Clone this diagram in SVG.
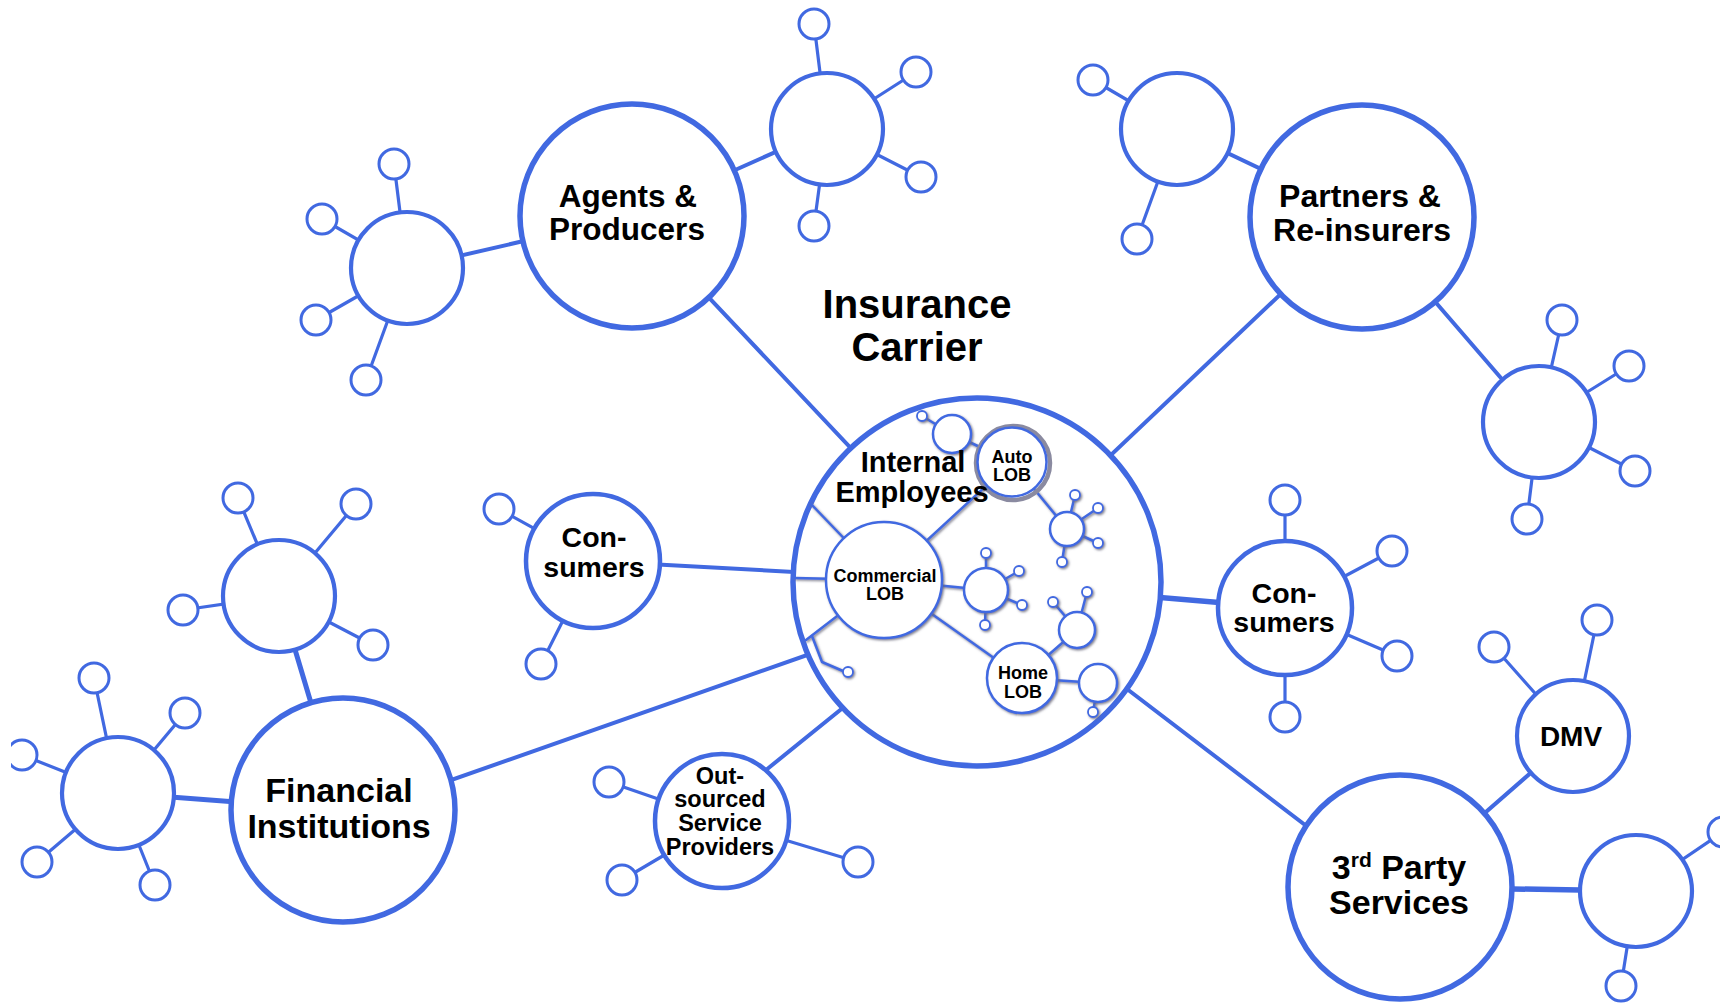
<svg xmlns="http://www.w3.org/2000/svg" width="1720" height="1004" viewBox="0 0 1720 1004">
<defs>
<style>
.n{fill:#fff;stroke:#4169e1}
.big{stroke-width:5.5}
.mid{stroke-width:4.5}
.sat{stroke-width:4.2}
.sm{fill:#fff;stroke:#4169e1;stroke-width:3}
.ln{stroke:#4169e1;stroke-linecap:round;fill:none}
.main{stroke-width:4}
.sp{stroke-width:3.2}
.t{font-family:"Liberation Sans",Arial,Helvetica,sans-serif;font-weight:bold;fill:#000;text-anchor:middle}
.il{stroke:#4169e1;stroke-width:2.5;fill:none;stroke-linecap:round}
.ic{fill:#fff;stroke:#4169e1;stroke-width:2.5}
.tc{fill:#fff;stroke:#4169e1;stroke-width:1.8}
</style>
<filter id="sh" x="-20%" y="-20%" width="140%" height="140%">
<feDropShadow dx="1.3" dy="1.3" stdDeviation="0.8" flood-color="#6a6a7a" flood-opacity="0.85"/>
</filter>
<clipPath id="clip"><rect x="11" y="0" width="1709" height="1004"/></clipPath>
</defs>
<rect width="1720" height="1004" fill="#fff"/>
<g clip-path="url(#clip)">
<g id="connectors" class="ln">
<line class="main" x1="632" y1="216" x2="977" y2="582"/>
<line class="main" x1="1362" y1="217" x2="977" y2="582"/>
<line class="main" x1="593" y1="561" x2="977" y2="582"/>
<line class="main" x1="400" y1="798" x2="830" y2="647"/>
<line class="main" x1="745" y1="787" x2="860" y2="694"/>
<line stroke-width="5.5" x1="1285" y1="608" x2="977" y2="582"/>
<line class="main" x1="1330" y1="844" x2="1110" y2="676"/>
<line class="main" x1="632" y1="216" x2="407" y2="268"/>
<line class="main" x1="632" y1="216" x2="827" y2="129"/>
<line class="main" x1="1362" y1="217" x2="1177" y2="129"/>
<line class="main" x1="1362" y1="217" x2="1539" y2="422"/>
<line stroke-width="5" x1="343" y1="810" x2="279" y2="596"/>
<line stroke-width="5" x1="343" y1="810" x2="118" y2="793"/>
<line class="main" x1="1400" y1="887" x2="1573" y2="736"/>
<line stroke-width="5.5" x1="1400" y1="887" x2="1636" y2="891"/>
<g class="sp">
<line x1="407" y1="268" x2="394" y2="164"/><line x1="407" y1="268" x2="322" y2="219"/><line x1="407" y1="268" x2="316" y2="320"/><line x1="407" y1="268" x2="366" y2="380"/>
<line x1="827" y1="129" x2="814" y2="24"/><line x1="827" y1="129" x2="916" y2="72"/><line x1="827" y1="129" x2="921" y2="177"/><line x1="827" y1="129" x2="814" y2="226"/>
<line x1="1177" y1="129" x2="1093" y2="80"/><line x1="1177" y1="129" x2="1137" y2="239"/>
<line x1="1539" y1="422" x2="1562" y2="320"/><line x1="1539" y1="422" x2="1629" y2="366"/><line x1="1539" y1="422" x2="1635" y2="471"/><line x1="1539" y1="422" x2="1527" y2="519"/>
<line x1="593" y1="561" x2="499" y2="509"/><line x1="593" y1="561" x2="541" y2="664"/>
<line x1="279" y1="596" x2="238" y2="498"/><line x1="279" y1="596" x2="356" y2="504"/><line x1="279" y1="596" x2="183" y2="610"/><line x1="279" y1="596" x2="373" y2="645"/>
<line x1="118" y1="793" x2="94" y2="678"/><line x1="118" y1="793" x2="185" y2="713"/><line x1="118" y1="793" x2="22" y2="755"/><line x1="118" y1="793" x2="37" y2="862"/><line x1="118" y1="793" x2="155" y2="885"/>
<line x1="722" y1="821" x2="609" y2="782"/><line x1="722" y1="821" x2="622" y2="880"/><line x1="722" y1="821" x2="858" y2="862"/>
<line x1="1285" y1="608" x2="1285" y2="500"/><line x1="1285" y1="608" x2="1392" y2="551"/><line x1="1285" y1="608" x2="1397" y2="656"/><line x1="1285" y1="608" x2="1285" y2="717"/>
<line x1="1573" y1="736" x2="1494" y2="647"/><line x1="1573" y1="736" x2="1597" y2="620"/>
<line x1="1636" y1="891" x2="1723" y2="832"/><line x1="1636" y1="891" x2="1621" y2="986"/>
</g>
</g>

<g id="agents-sat-left">
<circle class="n sat" cx="407" cy="268" r="56"/>
<circle class="sm" cx="394" cy="164" r="15"/><circle class="sm" cx="322" cy="219" r="15"/><circle class="sm" cx="316" cy="320" r="15"/><circle class="sm" cx="366" cy="380" r="15"/>
</g>
<g id="agents-sat-top">
<circle class="n sat" cx="827" cy="129" r="56"/>
<circle class="sm" cx="814" cy="24" r="15"/><circle class="sm" cx="916" cy="72" r="15"/><circle class="sm" cx="921" cy="177" r="15"/><circle class="sm" cx="814" cy="226" r="15"/>
</g>
<g id="agents">
<circle class="n big" cx="632" cy="216" r="112"/>
<text class="t" font-size="31.5" x="628" y="207">Agents &amp;</text>
<text class="t" font-size="31.5" x="627" y="240">Producers</text>
</g>

<g id="partners-sat-top">
<circle class="n sat" cx="1177" cy="129" r="56"/>
<circle class="sm" cx="1093" cy="80" r="15"/><circle class="sm" cx="1137" cy="239" r="15"/>
</g>
<g id="partners-sat-right">
<circle class="n sat" cx="1539" cy="422" r="56"/>
<circle class="sm" cx="1562" cy="320" r="15"/><circle class="sm" cx="1629" cy="366" r="15"/><circle class="sm" cx="1635" cy="471" r="15"/><circle class="sm" cx="1527" cy="519" r="15"/>
</g>
<g id="partners">
<circle class="n big" cx="1362" cy="217" r="112"/>
<text class="t" font-size="32" x="1360" y="207">Partners &amp;</text>
<text class="t" font-size="32" x="1362" y="241">Re-insurers</text>
</g>

<g id="consumers-left">
<circle class="n mid" cx="593" cy="561" r="67"/>
<circle class="sm" cx="499" cy="509" r="15"/><circle class="sm" cx="541" cy="664" r="15"/>
<text class="t" font-size="28.5" x="594" y="547">Con-</text>
<text class="t" font-size="28.5" x="594" y="577">sumers</text>
</g>

<g id="financial-sat-top">
<circle class="n sat" cx="279" cy="596" r="56"/>
<circle class="sm" cx="238" cy="498" r="15"/><circle class="sm" cx="356" cy="504" r="15"/><circle class="sm" cx="183" cy="610" r="15"/><circle class="sm" cx="373" cy="645" r="15"/>
</g>
<g id="financial-sat-left">
<circle class="n sat" cx="118" cy="793" r="56"/>
<circle class="sm" cx="94" cy="678" r="15"/><circle class="sm" cx="185" cy="713" r="15"/><circle class="sm" cx="22" cy="755" r="15"/><circle class="sm" cx="37" cy="862" r="15"/><circle class="sm" cx="155" cy="885" r="15"/>
</g>
<g id="financial">
<circle class="n big" cx="343" cy="810" r="112"/>
<text class="t" font-size="34" x="339" y="802">Financial</text>
<text class="t" font-size="34" x="339" y="838">Institutions</text>
</g>

<g id="outsourced">
<circle class="n mid" cx="722" cy="821" r="67"/>
<circle class="sm" cx="609" cy="782" r="15"/><circle class="sm" cx="622" cy="880" r="15"/><circle class="sm" cx="858" cy="862" r="15"/>
<text class="t" font-size="23.5" x="720" y="784">Out-</text>
<text class="t" font-size="23.5" x="720" y="807">sourced</text>
<text class="t" font-size="23.5" x="720" y="831">Service</text>
<text class="t" font-size="23.5" x="720" y="855">Providers</text>
</g>

<g id="consumers-right">
<circle class="n mid" cx="1285" cy="608" r="67"/>
<circle class="sm" cx="1285" cy="500" r="15"/><circle class="sm" cx="1392" cy="551" r="15"/><circle class="sm" cx="1397" cy="656" r="15"/><circle class="sm" cx="1285" cy="717" r="15"/>
<text class="t" font-size="28.5" x="1284" y="603">Con-</text>
<text class="t" font-size="28.5" x="1284" y="632">sumers</text>
</g>

<g id="dmv">
<circle class="n sat" cx="1573" cy="736" r="56"/>
<circle class="sm" cx="1494" cy="647" r="15"/><circle class="sm" cx="1597" cy="620" r="15"/>
<text class="t" font-size="28" x="1571" y="746">DMV</text>
</g>
<g id="third-party-sat">
<circle class="n sat" cx="1636" cy="891" r="56"/>
<circle class="sm" cx="1723" cy="832" r="15"/><circle class="sm" cx="1621" cy="986" r="15"/>
</g>
<g id="third-party">
<circle class="n big" cx="1400" cy="887" r="112"/>
<text class="t" font-size="34" x="1399" y="879">3<tspan font-size="21" baseline-shift="12">rd</tspan> Party</text>
<text class="t" font-size="34" x="1399" y="914">Services</text>
</g>

<g id="insurance-carrier">
<circle class="n big" cx="977" cy="582" r="184"/>
<g id="inner-connectors" filter="url(#sh)">
<line class="il" x1="884" y1="580" x2="1012" y2="462"/>
<line class="il" x1="884" y1="580" x2="810" y2="503"/>
<line class="il" x1="884" y1="580" x2="795" y2="578"/>
<line class="il" x1="884" y1="580" x2="806" y2="640"/>
<polyline class="il" points="812,636 822,662 843,671"/>
<line class="il" x1="884" y1="580" x2="986" y2="590"/>
<line class="il" x1="884" y1="580" x2="1022" y2="678"/>
<line class="il" x1="1012" y1="462" x2="952" y2="434"/>
<line class="il" stroke-width="1.8" x1="952" y1="434" x2="922" y2="416"/>
<line class="il" x1="1012" y1="462" x2="1067" y2="529"/>
<line class="il" stroke-width="1.8" x1="1067" y1="529" x2="1075" y2="495"/><line class="il" stroke-width="1.8" x1="1067" y1="529" x2="1098" y2="508"/><line class="il" stroke-width="1.8" x1="1067" y1="529" x2="1098" y2="543"/><line class="il" stroke-width="1.8" x1="1067" y1="529" x2="1062" y2="562"/>
<line class="il" stroke-width="1.8" x1="986" y1="590" x2="986" y2="553"/><line class="il" stroke-width="1.8" x1="986" y1="590" x2="1019" y2="571"/><line class="il" stroke-width="1.8" x1="986" y1="590" x2="1022" y2="605"/><line class="il" stroke-width="1.8" x1="986" y1="590" x2="985" y2="625"/>
<line class="il" stroke-width="1.8" x1="1077" y1="630" x2="1053" y2="602"/><line class="il" stroke-width="1.8" x1="1077" y1="630" x2="1087" y2="592"/>
<line class="il" stroke-width="1.8" x1="1098" y1="683" x2="1093" y2="712"/>
<line class="il" x1="1022" y1="678" x2="1077" y2="630"/>
<line class="il" x1="1022" y1="678" x2="1098" y2="683"/>
</g>
<g id="inner-nodes" filter="url(#sh)">
<circle class="ic" cx="952" cy="434" r="19"/>
<circle class="tc" cx="922" cy="416" r="5"/>
<circle class="ic" stroke-width="2" cx="1067" cy="529" r="17"/>
<circle class="tc" cx="1075" cy="495" r="5"/><circle class="tc" cx="1098" cy="508" r="5"/><circle class="tc" cx="1098" cy="543" r="5"/><circle class="tc" cx="1062" cy="562" r="5"/>
<circle class="ic" stroke-width="2" cx="986" cy="590" r="22"/>
<circle class="tc" cx="986" cy="553" r="5"/><circle class="tc" cx="1019" cy="571" r="5"/><circle class="tc" cx="1022" cy="605" r="5"/><circle class="tc" cx="985" cy="625" r="5"/>
<circle class="ic" stroke-width="2" cx="1077" cy="630" r="18"/>
<circle class="tc" cx="1053" cy="602" r="5"/><circle class="tc" cx="1087" cy="592" r="5"/>
<circle class="ic" stroke-width="2" cx="1098" cy="683" r="19"/>
<circle class="tc" cx="1093" cy="712" r="5"/>
<circle class="tc" cx="848" cy="672" r="5"/>
</g>
<g id="commercial-lob" filter="url(#sh)">
<circle class="ic" stroke-width="2.8" cx="884" cy="580" r="58"/>
</g>
<text class="t" font-size="18" x="885" y="582">Commercial</text>
<text class="t" font-size="18" x="885" y="600">LOB</text>
<g id="auto-lob">
<circle fill="none" stroke="#8a8aa0" stroke-width="4.5" cx="1013" cy="463" r="37"/>
<circle class="ic" stroke-width="3" cx="1012" cy="462" r="34.5"/>
<text class="t" font-size="18" x="1012" y="463">Auto</text>
<text class="t" font-size="18" x="1012" y="481">LOB</text>
</g>
<g id="home-lob" filter="url(#sh)">
<circle class="ic" stroke-width="2.8" cx="1022" cy="678" r="35"/>
</g>
<text class="t" font-size="18" x="1023" y="679">Home</text>
<text class="t" font-size="18" x="1023" y="698">LOB</text>
<text class="t" font-size="29" x="913" y="472">Internal</text>
<text class="t" font-size="29" x="912" y="502">Employees</text>
</g>
<text class="t" font-size="40" x="917" y="318">Insurance</text>
<text class="t" font-size="40" x="917" y="361">Carrier</text>
</g>
</svg>
